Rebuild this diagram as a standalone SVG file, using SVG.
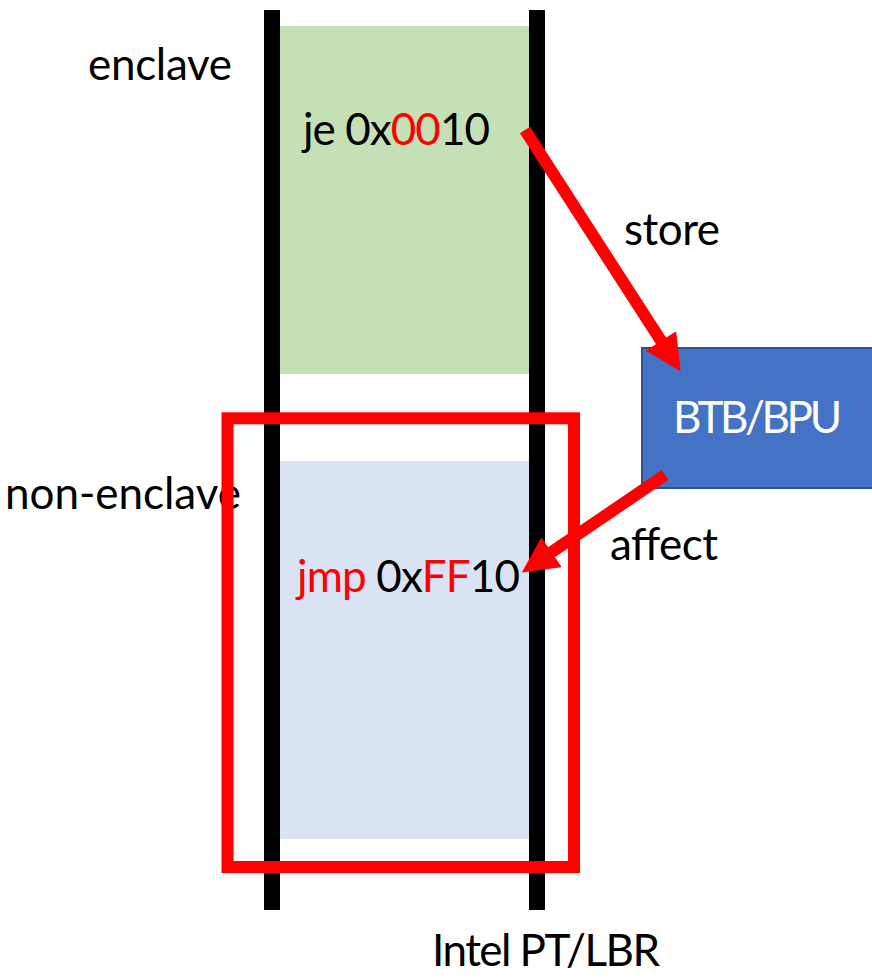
<svg xmlns="http://www.w3.org/2000/svg" width="872" height="978" viewBox="0 0 872 978">
<style>
text{font-family:Lato,"Open Sans","Liberation Sans",sans-serif;font-size:44px;fill:#000}
.red{fill:#FF0000}
.bar{fill:#000}
.conn{stroke:#FF0000;stroke-width:12;fill:none}
</style>
<defs>
<marker id="head" markerUnits="userSpaceOnUse" viewBox="0 0 36 36" refX="2" refY="18" markerWidth="36" markerHeight="36" orient="auto">
<path d="M0,0 L36,18 L0,36 z" fill="#FF0000"/>
</marker>
</defs>
<rect width="872" height="978" fill="#fff"/>
<g id="labels">
<text x="88" y="80" textLength="144">enclave</text>
<text x="5" y="509" textLength="236">non-enclave</text>
<text x="624" y="245" textLength="96">store</text>
<text x="610" y="560" textLength="108">affect</text>
<text x="432" y="966" textLength="228">Intel PT/LBR</text>
</g>
<g id="enclave-region">
<rect x="280" y="26" width="249" height="348" fill="#C5E0B4"/>
<text x="303" y="145" textLength="187">je 0x<tspan class="red">00</tspan>10</text>
</g>
<g id="non-enclave-region">
<rect x="280" y="461" width="249" height="378" fill="#DAE3F3"/>
<text x="297" y="592" textLength="223"><tspan class="red">jmp</tspan> 0x<tspan class="red">FF</tspan>10</text>
</g>
<g id="timelines">
<rect class="bar" x="264" y="10" width="16" height="900"/>
<rect class="bar" x="529" y="10" width="16" height="900"/>
</g>
<g id="highlight-frame">
<rect x="227.5" y="418.3" width="346.5" height="448.7" fill="none" stroke="#FF0000" stroke-width="12"/>
</g>
<g id="btb-bpu">
<rect x="642" y="348" width="240" height="140" fill="#4472C4" stroke="#2F528F" stroke-width="2"/>
<text x="673" y="433" textLength="169" style="fill:#fff">BTB/BPU</text>
</g>
<g id="connectors">
<line class="conn" x1="525" y1="130" x2="662.1" y2="342.6" marker-end="url(#head)"/>
<line class="conn" x1="665" y1="475" x2="549.9" y2="553.3" marker-end="url(#head)"/>
</g>
</svg>
